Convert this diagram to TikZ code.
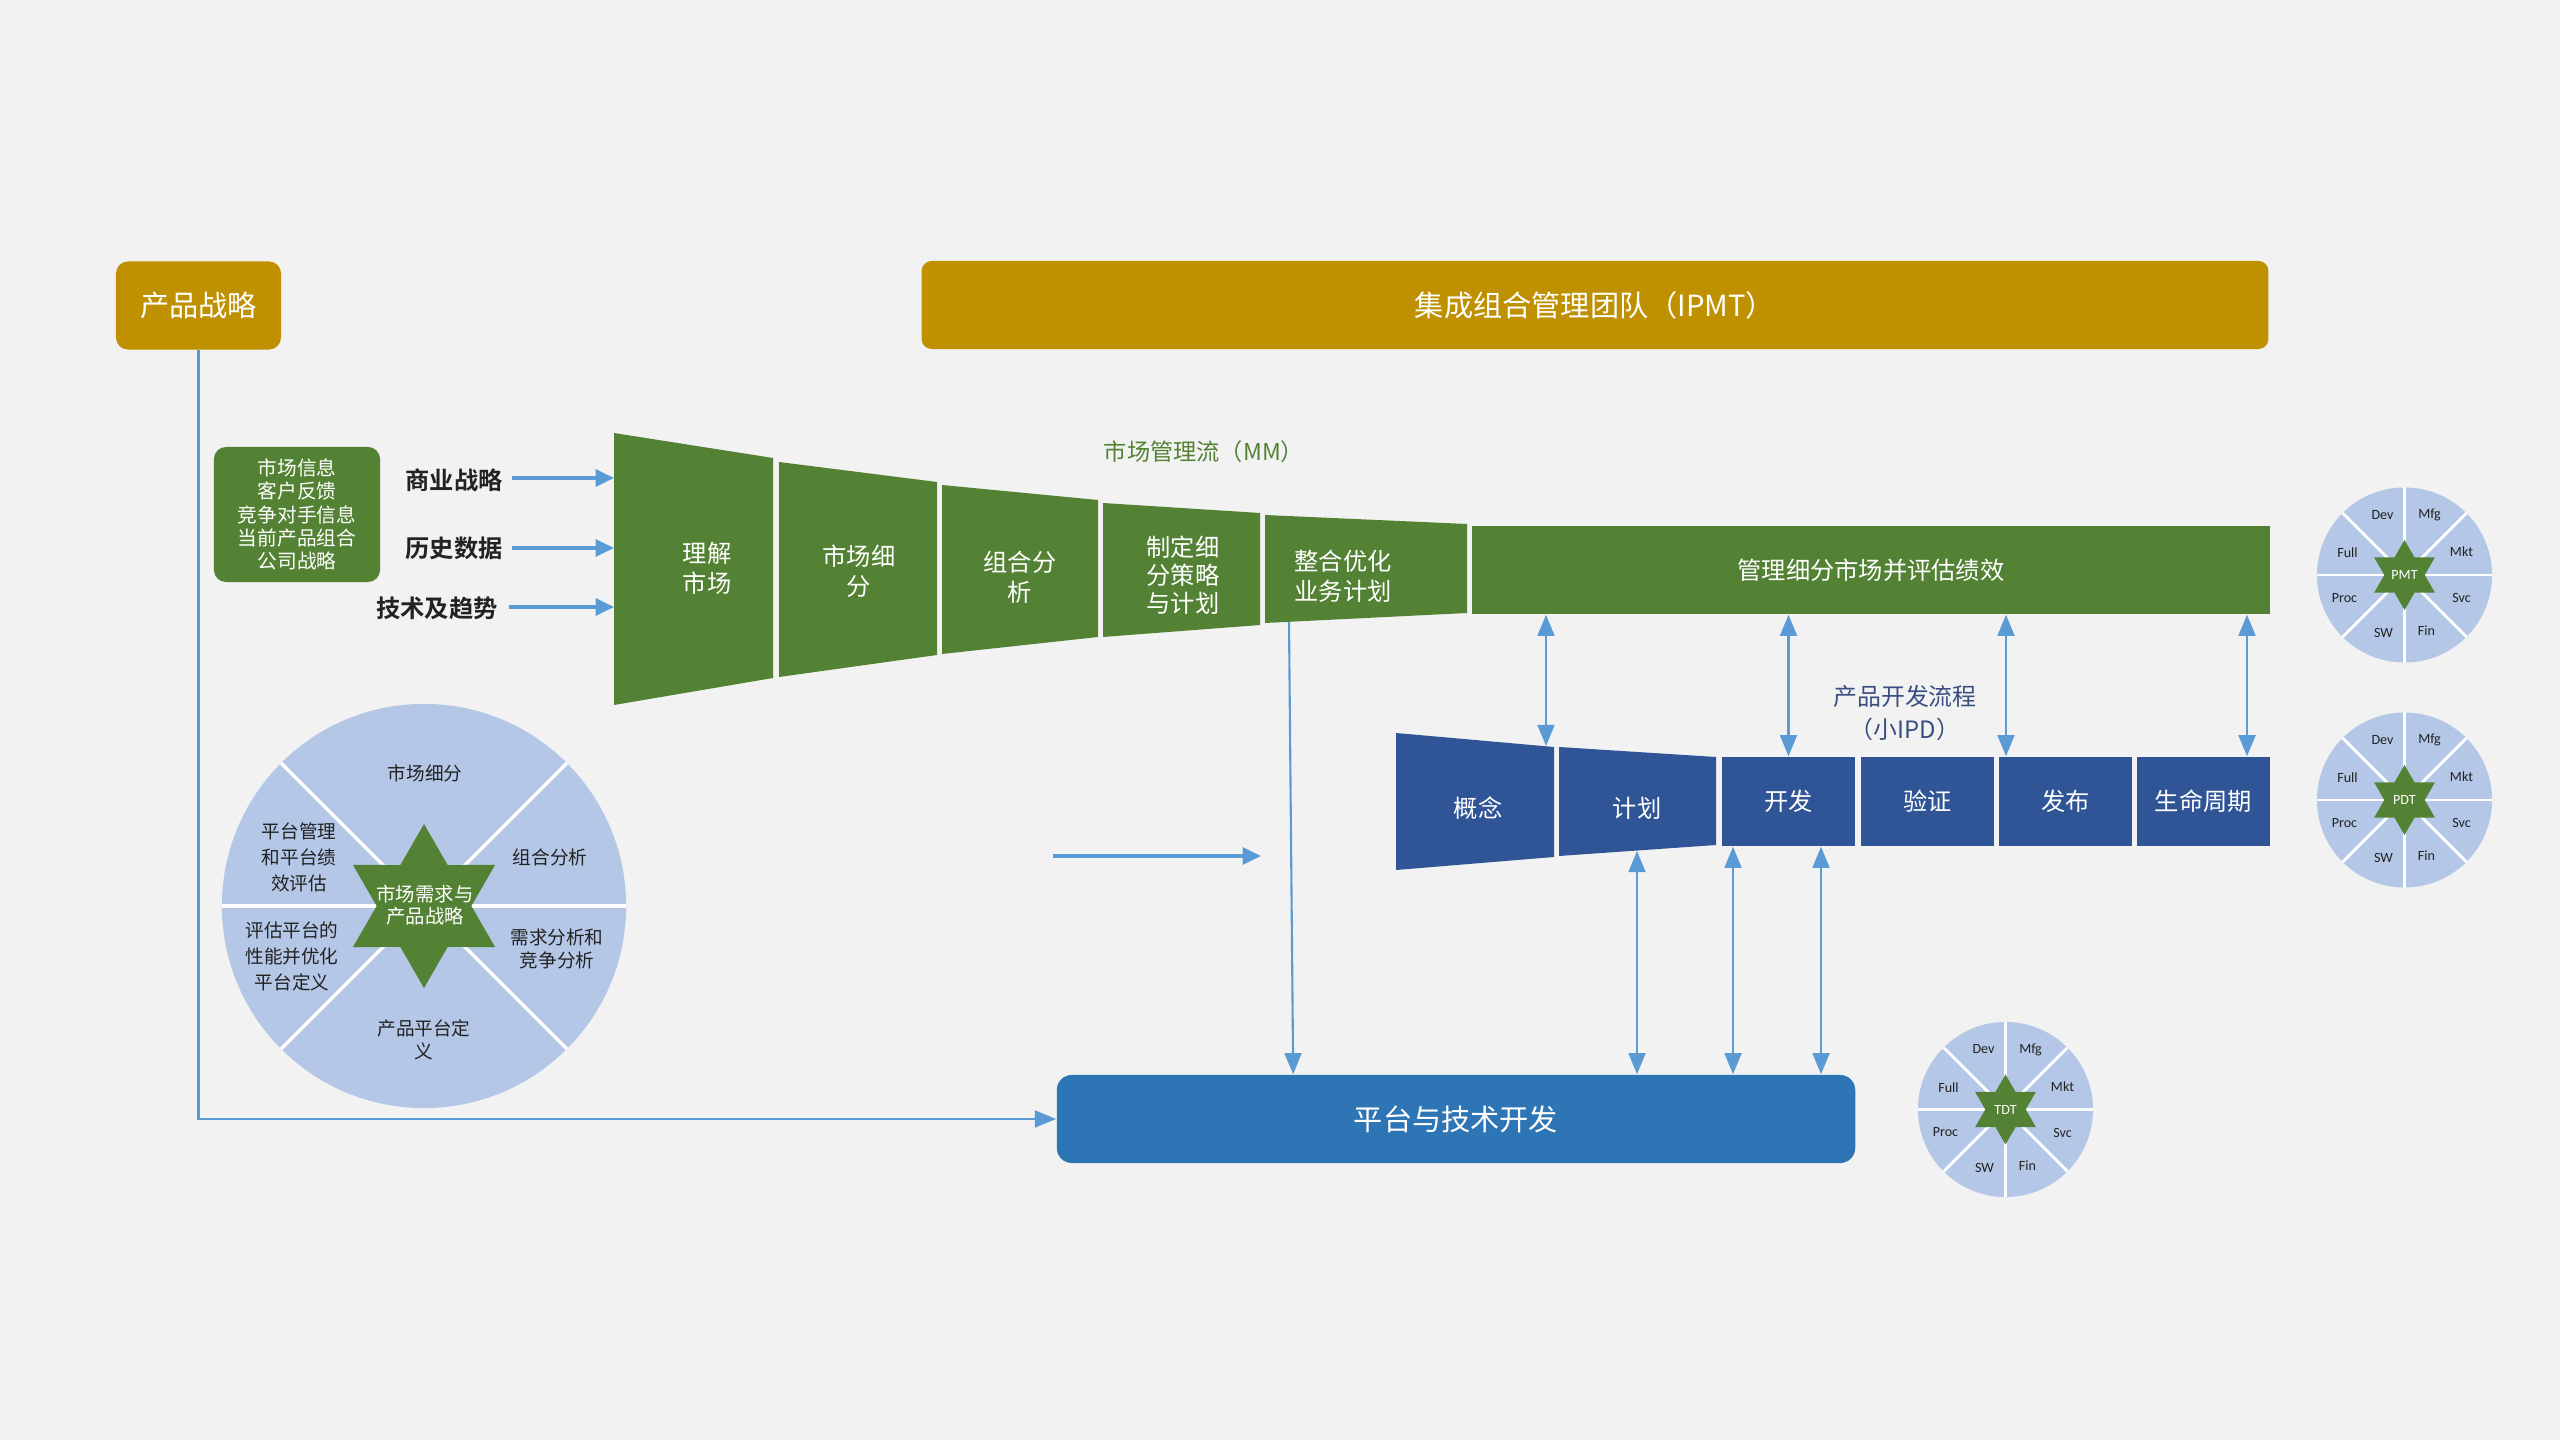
\documentclass[tikz,border=0pt]{standalone}
\usepackage{fontspec}
\setmainfont{Noto Sans CJK SC}[BoldFont={Noto Sans CJK SC Bold}]
\newfontfamily\carl{Carlito}
\usetikzlibrary{arrows.meta}
\definecolor{bgc}{HTML}{F2F2F2}
\definecolor{gold}{HTML}{BF9000}
\definecolor{mmgreen}{HTML}{548235}
\definecolor{ipdblue}{HTML}{2F5597}
\definecolor{platblue}{HTML}{2E75B6}
\definecolor{arrblue}{HTML}{5B9BD5}
\definecolor{piec}{HTML}{B4C7E7}
\definecolor{dark}{HTML}{222222}
\definecolor{ipdlab}{HTML}{3A4E80}
\tikzset{
  wt/.style={text=white, align=center, inner sep=0pt},
  rbox/.style={wt, rounded corners=0.12cm, minimum height=0.88cm},
  fbig/.style={font=\fontsize{8.3pt}{10pt}\selectfont},
  fmid/.style={font=\fontsize{6.9pt}{8.5pt}\selectfont},
  fsml/.style={font=\fontsize{5.6pt}{6.6pt}\selectfont},
  fsec/.style={font=\fontsize{5.3pt}{7.4pt}\selectfont, text=dark, align=center, inner sep=0pt},
  flab/.style={font=\bfseries\fontsize{6.9pt}{8pt}\selectfont, text=dark, inner sep=0pt},
  tlab/.style={font=\carl\fontsize{4pt}{5pt}\selectfont, text=dark, inner sep=0pt},
  arr/.style={draw=arrblue, line width=0.6pt, -{Triangle[length=6pt,width=4.8pt]}},
  arrk/.style={draw=arrblue, line width=0.9pt, -{Triangle[length=5.2pt,width=4.8pt]}},
  dbl/.style={draw=arrblue, line width=0.6pt, {Triangle[length=6pt,width=4.8pt]}-{Triangle[length=6pt,width=4.8pt]}},
  team/.pic={
    \fill[piec] (0,0) circle (0.875cm);
    \foreach \a in {0,45,...,315} \draw[white, line width=0.8pt] (0,0) -- (\a:0.875cm);
    \fill[mmgreen] (30:0.35cm) \foreach \a in {60,120,...,360}{ -- (\a:0.202cm) -- (\a+30:0.35cm)} -- cycle;
    \node[tlab, text=white] (-c) at (0,0) {#1};
    \node[tlab] (-dev) at (-22,-60) {Dev};
    \node[tlab] (-mfg) at (25,-60) {Mfg};
    \node[tlab] (-full) at (-57,-22) {Full};
    \node[tlab] (-mkt) at (57,-23) {Mkt};
    \node[tlab] (-proc) at (-60,23) {Proc};
    \node[tlab] (-svc) at (57,23) {Svc};
    \node[tlab] (-sw) at (-21,58) {SW};
    \node[tlab] (-fin) at (22,56) {Fin};
  }
}
\begin{document}
\begin{tikzpicture}[x=0.01cm, y=-0.01cm]
\useasboundingbox (0,0) rectangle (2560,1440);
\fill[bgc] (0,0) rectangle (2560,1440);

% top boxes
\node[rbox, fill=gold, fbig, minimum width=1.65cm] (ps) at (198.5,305.5) {产品战略};
\node[rbox, fill=gold, fbig, minimum width=13.46cm, rounded corners=0.1cm] (ipmt) at (1595,305) {集成组合管理团队（IPMT）};

% info box and labels
\node[rbox, fill=mmgreen, fsml, minimum width=1.66cm, minimum height=1.35cm] (info) at (297,514.5) {市场信息\\客户反馈\\竞争对手信息\\当前产品组合\\公司战略};
\node[flab] (l1) at (454,480) {商业战略};
\node[flab] (l2) at (454,548) {历史数据};
\node[flab] (l3) at (437,608) {技术及趋势};
\coordinate (fl) at (614,0);
\draw[arrk] (512,478) coordinate (a1) -- (a1 -| fl);
\draw[arrk] (512,548) coordinate (a2) -- (a2 -| fl);
\draw[arrk] (509,607) coordinate (a3) -- (a3 -| fl);

% market management funnel
\fill[mmgreen] (614,433) -- (773,458) -- (773,678) -- (614,705) -- cycle;
\fill[mmgreen] (779,462) -- (937,482) -- (937,655) -- (779,677) -- cycle;
\fill[mmgreen] (942,485) -- (1098,500) -- (1098,637) -- (942,654) -- cycle;
\fill[mmgreen] (1103,503) -- (1260,513) -- (1260,625) -- (1103,637) -- cycle;
\fill[mmgreen] (1265,515) -- (1467,524) -- (1467,613) -- (1265,623) -- cycle;
\node[wt, fmid] (s1) at (707,568) {理解\\市场};
\node[wt, fmid] (s2) at (859,571) {市场细\\分};
\node[wt, fmid] (s3) at (1020,577) {组合分\\析};
\node[wt, fmid, font=\fontsize{6.9pt}{8pt}\selectfont] (s4) at (1183,575) {制定细\\分策略\\与计划};
\node[wt, fmid] (s5) at (1343,576) {整合优化\\业务计划};
\node[wt, fmid, fill=mmgreen, minimum width=7.98cm, minimum height=0.88cm] (mgmt) at (1871,570) {管理细分市场并评估绩效};
\node[inner sep=0pt, text=mmgreen, font=\fontsize{6.6pt}{8pt}\selectfont] (mm) at (1204,452) {市场管理流（MM）};

% IPD
\fill[ipdblue] (1396,733) -- (1554,747) -- (1554,857) -- (1396,870) -- cycle;
\fill[ipdblue] (1559,747) -- (1716,757) -- (1716,845) -- (1559,856) -- cycle;
\node[wt, fmid] (gn) at (1478,808) {概念};
\node[wt, fmid] (jh) at (1637,808) {计划};
\node[wt, fmid, fill=ipdblue, minimum width=1.33cm, minimum height=0.89cm] (kf) at (1788.5,801.5) {开发};
\node[wt, fmid, fill=ipdblue, minimum width=1.33cm, minimum height=0.89cm] (yz) at (1927.5,801.5) {验证};
\node[wt, fmid, fill=ipdblue, minimum width=1.33cm, minimum height=0.89cm] (fb) at (2065.5,801.5) {发布};
\node[wt, fmid, fill=ipdblue, minimum width=1.33cm, minimum height=0.89cm] (sm) at (2203.5,801.5) {生命周期};
\node[inner sep=0pt, align=center, text=ipdlab, font=\fontsize{6.8pt}{9.4pt}\selectfont] (ipd) at (1905,713) {产品开发流程\\（小IPD）};

% platform box
\node[rbox, fill=platblue, fbig, minimum width=7.98cm, rounded corners=0.15cm] (plat) at (1456,1119) {平台与技术开发};

% connectors
\draw[arr] (ps.south) -- (ps.south |- plat.west) -- (plat.west);
\coordinate (s5b) at (1289,622);
\draw[arr] (s5b) -- ([xshift=2.37cm]plat.north west);
\coordinate (fa) at (1053,856);
\coordinate (fbe) at (1261,856);
\draw[arrk] (fa) -- (fbe);

\coordinate (gntop) at (1546,746);
\draw[dbl] (mgmt.south -| gntop) -- (gntop);
\draw[dbl] (mgmt.south -| kf.north) -- (kf.north);
\coordinate (x3) at (2006,0);
\draw[dbl] (mgmt.south -| x3) -- (fb.north -| x3);
\coordinate (x4) at (2247,0);
\draw[dbl] (mgmt.south -| x4) -- (sm.north -| x4);

\coordinate (jhb) at (1637,851);
\draw[dbl] (jhb) -- (plat.north -| jhb);
\coordinate (x6) at (1733,0);
\draw[dbl] (kf.south -| x6) -- (plat.north -| x6);
\coordinate (x7) at (1821,0);
\draw[dbl] (kf.south -| x7) -- (plat.north -| x7);

% big wheel
\begin{scope}[shift={(424,906)}]
  \fill[piec] (0,0) circle (2.02cm);
  \foreach \a in {0,45,135,180,225,315} \draw[white, line width=1pt] (0,0) -- (\a:2.02cm);
  \fill[mmgreen] (30:0.82cm) \foreach \a in {60,120,...,360}{ -- (\a:0.473cm) -- (\a+30:0.82cm)} -- cycle;
\end{scope}
\node[wt, font=\fontsize{5.5pt}{6.4pt}\selectfont] (core) at (425,905) {市场需求与\\产品战略};
\node[fsec] (w1) at (425,773) {市场细分};
\node[fsec] (w2) at (550,857) {组合分析};
\node[fsec, font=\fontsize{5.3pt}{6.4pt}\selectfont] (w3) at (557,949) {需求分析和\\竞争分析};
\node[fsec, font=\fontsize{5.3pt}{6.4pt}\selectfont] (w4) at (424,1040) {产品平台定\\义};
\node[fsec] (w5) at (292,956) {评估平台的\\性能并优化\\平台定义};
\node[fsec] (w6) at (299,857) {平台管理\\和平台绩\\效评估};

% team wheels
\pic (pmt) at (2404.5,575) {team=PMT};
\pic (pdt) at (2404.5,800) {team=PDT};
\pic (tdt) at (2005.5,1109.5) {team=TDT};
\end{tikzpicture}
\end{document}
